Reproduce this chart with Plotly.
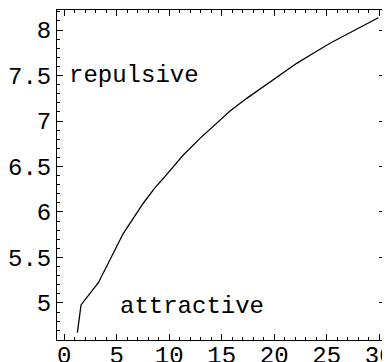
import plotly.graph_objects as go

# valeurs
x_vals = [1.25, 1.60, 3.25, 4.52, 5.31, 5.63, 7.53, 8.65, 9.44, 11.34, 12.93,
          15.79, 17.38, 18.96, 20.55, 22.14, 23.72, 25.31, 29.91]
y_vals = [4.674, 4.978, 5.223, 5.509, 5.692, 5.766, 6.096, 6.267, 6.370, 6.626, 6.809,
          7.110, 7.249, 7.377, 7.505, 7.634, 7.744, 7.854, 8.135]

x_ticks = [0, 5, 10, 15, 20, 25, 30]
y_ticks = [5, 5.5, 6, 6.5, 7, 7.5, 8]
y_labels = ["5", "5.5", "6", "6.5", "7", "7.5", "8"]

police = "Courier New, Liberation Mono, monospace"

fig = go.Figure()
fig.add_trace(go.Scatter(x=x_vals, y=y_vals, mode="lines",
                         line=dict(color="black", width=1.3), showlegend=False))

fig.add_annotation(x=6.6, y=7.495, text="repulsive", showarrow=False,
                   font=dict(family=police, size=24, color="black"))
fig.add_annotation(x=12.17, y=4.96, text="attractive", showarrow=False,
                   font=dict(family=police, size=24, color="black"))

axe = dict(showgrid=False, zeroline=False, showline=True, linecolor="black",
           linewidth=1, mirror="ticks", ticks="inside", ticklen=6,
           tickcolor="black", tickwidth=1, automargin=False,
           ticklabeloverflow="allow",
           tickfont=dict(family=police, size=24, color="black"))

fig.update_xaxes(range=[-0.69, 30.55], tickvals=x_ticks, ticklabelstandoff=-7,
                 minor=dict(dtick=1, ticklen=3, ticks="inside", tickcolor="black"),
                 **axe)
fig.update_yaxes(range=[4.593, 8.22], tickvals=y_ticks, ticktext=y_labels,
                 minor=dict(dtick=0.1, ticklen=3, ticks="inside", tickcolor="black"),
                 **axe)

# la page ajoute 8 px de marge autour du graphique
fig.update_layout(width=382, height=354, margin=dict(l=49, r=5, t=2, b=22),
                  plot_bgcolor="white", paper_bgcolor="white")

fig.write_html("out.html")
